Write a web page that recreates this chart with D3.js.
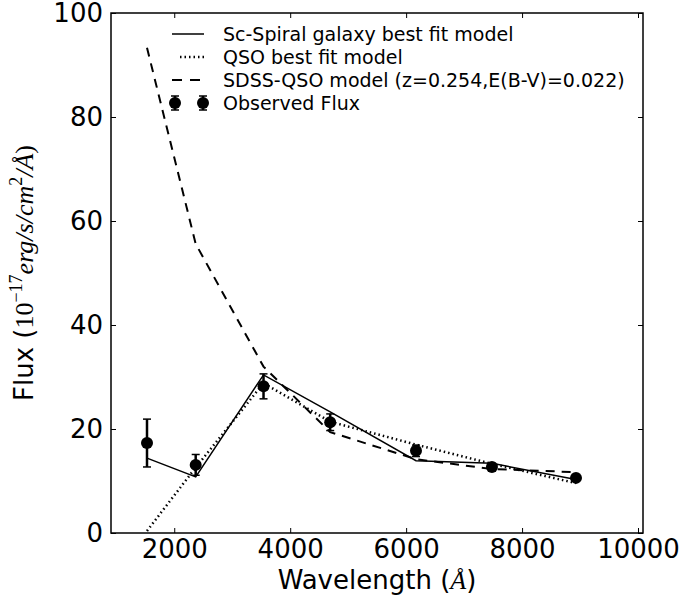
<!DOCTYPE html>
<html><head><meta charset="utf-8">
<script src="https://cdn.jsdelivr.net/npm/d3@7"></script>
<style>body{margin:0;background:#fff}svg{display:block}</style>
</head><body>
<script>
const wavelength = [1530, 2370, 3540, 4690, 6170, 7480, 8930];
const observedFlux = [17.3, 13.1, 28.2, 21.3, 15.8, 12.7, 10.6];
const observedErr = [4.6, 2.0, 2.4, 1.6, 1.1, 0.7, 0.5];
const spiralModel = [14.4, 10.8, 30.4, 23.3, 13.9, 13.4, 10.3];
const qsoModel = [0.4, 12.6, 28.8, 21.4, 17.0, 13.3, 9.6];
const sdssModel = [93.3, 55.6, 32.0, 19.4, 14.2, 12.3, 11.7];
const xTicks = [2000, 4000, 6000, 8000, 10000];
const yTicks = [0, 20, 40, 60, 80, 100];
const legendLabels = ["Sc-Spiral galaxy best fit model", "QSO best fit model",
  "SDSS-QSO model (z=0.254,E(B-V)=0.022)", "Observed Flux"];

const W = 685, H = 600;
const L = 111, R = 643, T = 13, B = 533;
const x = d3.scaleLinear().domain([909, 10086]).range([L, R]);
const y = d3.scaleLinear().domain([0, 100]).range([B, T]);

const svg = d3.select("body").append("svg").attr("width", W).attr("height", H);
const sans = "DejaVu Sans, sans-serif";
const serif = "Liberation Serif, DejaVu Serif, serif";

// axes
const gx = svg.append("g").attr("transform", `translate(0,${B})`)
  .call(d3.axisBottom(x).tickValues(xTicks).tickSizeInner(-5).tickSizeOuter(0).tickPadding(7).tickFormat(d3.format("d")));
const gxt = svg.append("g").attr("transform", `translate(0,${T})`)
  .call(d3.axisTop(x).tickValues(xTicks).tickSizeInner(-5).tickSizeOuter(0).tickFormat(""));
const gy = svg.append("g").attr("transform", `translate(${L},0)`)
  .call(d3.axisLeft(y).tickValues(yTicks).tickSizeInner(-5).tickSizeOuter(0).tickPadding(8).tickFormat(d3.format("d")));
const gyr = svg.append("g").attr("transform", `translate(${R},0)`)
  .call(d3.axisRight(y).tickValues(yTicks).tickSizeInner(-5).tickSizeOuter(0).tickFormat(""));
[gx, gxt, gy, gyr].forEach(g => {
  g.select(".domain").remove();
  g.selectAll("line").attr("stroke", "#000").attr("stroke-width", 1);
  g.selectAll("text").attr("font-family", sans).attr("font-size", 26).attr("fill", "#000");
});
svg.append("rect").attr("x", L).attr("y", T).attr("width", R - L).attr("height", B - T)
  .attr("fill", "none").attr("stroke", "#000").attr("stroke-width", 1.5);

// clip
svg.append("clipPath").attr("id", "clip").append("rect")
  .attr("x", L).attr("y", T).attr("width", R - L).attr("height", B - T);
const plot = svg.append("g").attr("clip-path", "url(#clip)");

const line = vals => d3.line().x((d, i) => x(wavelength[i])).y(d => y(d))(vals);
plot.append("path").attr("d", line(spiralModel)).attr("fill", "none").attr("stroke", "#000").attr("stroke-width", 1.5);
plot.append("path").attr("d", line(qsoModel)).attr("fill", "none").attr("stroke", "#000").attr("stroke-width", 2.5).attr("stroke-dasharray", "1.5,3");
plot.append("path").attr("d", line(sdssModel)).attr("fill", "none").attr("stroke", "#000").attr("stroke-width", 2).attr("stroke-dasharray", "9,7");

// error bars
const eb = plot.append("g");
wavelength.forEach((w, i) => {
  const cx = x(w), y1 = y(observedFlux[i] + observedErr[i]), y2 = y(observedFlux[i] - observedErr[i]);
  eb.append("line").attr("x1", cx).attr("x2", cx).attr("y1", y1).attr("y2", y2).attr("stroke", "#000").attr("stroke-width", 2.5);
  [y1, y2].forEach(yy => eb.append("line").attr("x1", cx - 4).attr("x2", cx + 4).attr("y1", yy).attr("y2", yy).attr("stroke", "#000").attr("stroke-width", 1.5));
  eb.append("circle").attr("cx", cx).attr("cy", y(observedFlux[i])).attr("r", 6).attr("fill", "#000");
});

// legend
const lg = svg.append("g");
const ly = [34, 57, 80, 103];
const lx0 = 172, lx1 = 204;
lg.append("line").attr("x1", lx0).attr("x2", lx1).attr("y1", ly[0]).attr("y2", ly[0]).attr("stroke", "#000").attr("stroke-width", 1.5);
lg.append("line").attr("x1", lx0 + 8).attr("x2", lx1).attr("y1", ly[1]).attr("y2", ly[1]).attr("stroke", "#000").attr("stroke-width", 2.5).attr("stroke-dasharray", "1.5,3");
lg.append("line").attr("x1", lx0).attr("x2", lx1).attr("y1", ly[2]).attr("y2", ly[2]).attr("stroke", "#000").attr("stroke-width", 2).attr("stroke-dasharray", "10,8");
[175, 203].forEach(cx => {
  lg.append("line").attr("x1", cx).attr("x2", cx).attr("y1", ly[3] - 7).attr("y2", ly[3] + 7).attr("stroke", "#000").attr("stroke-width", 2.5);
  [ly[3] - 7, ly[3] + 7].forEach(yy => lg.append("line").attr("x1", cx - 4).attr("x2", cx + 4).attr("y1", yy).attr("y2", yy).attr("stroke", "#000").attr("stroke-width", 1.5));
  lg.append("circle").attr("cx", cx).attr("cy", ly[3]).attr("r", 6).attr("fill", "#000");
});
legendLabels.forEach((t, i) => lg.append("text").attr("x", 223).attr("y", ly[i]).attr("dy", "0.35em")
  .attr("font-family", sans).attr("font-size", 19).text(t));

// x label
const xl = svg.append("text").attr("x", (L + R) / 2).attr("y", 589).attr("text-anchor", "middle")
  .attr("font-family", sans).attr("font-size", 26);
xl.append("tspan").text("Wavelength (");
xl.append("tspan").attr("font-family", serif).attr("font-style", "italic").text("Å");
xl.append("tspan").text(")");

// y label
const yl = svg.append("text").attr("transform", `translate(33,${(T + B) / 2}) rotate(-90)`)
  .attr("text-anchor", "middle").attr("font-family", sans).attr("font-size", 26);
yl.append("tspan").text("Flux (");
yl.append("tspan").attr("font-family", serif).text("10");
yl.append("tspan").attr("font-family", serif).attr("font-size", 18).attr("dy", -11).text("−17");
yl.append("tspan").attr("font-family", serif).attr("font-style", "italic").attr("dy", 11).text("erg/s/cm");
yl.append("tspan").attr("font-family", serif).attr("font-size", 18).attr("dy", -11).text("2");
yl.append("tspan").attr("font-family", serif).attr("font-style", "italic").attr("dy", 11).text("/Å");
yl.append("tspan").attr("font-family", serif).text(")");
</script>
</body></html>
